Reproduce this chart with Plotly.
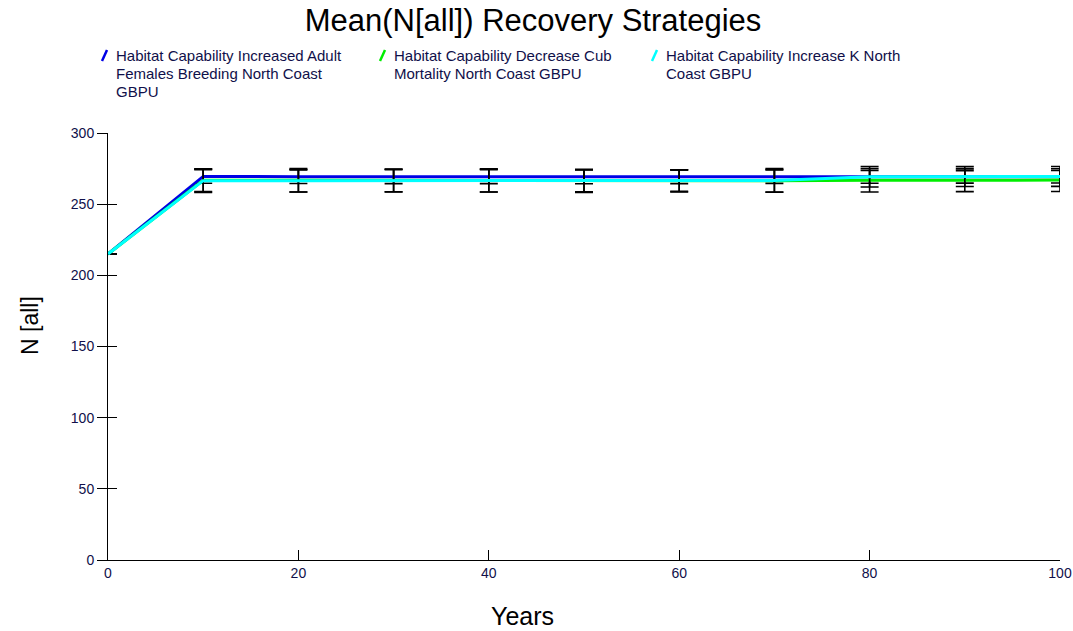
import plotly.graph_objects as go

# Simulated mean population size N[all] by year, with standard deviations
years = [0, 10, 20, 30, 40, 50, 60, 70, 80, 90, 100]

adult_females_mean = [215, 269.5, 269.3, 269.3, 269.3, 269.2, 269.2, 269.3, 269.2, 269.2, 269.3]
adult_females_sd = [0, 4.8, 4.8, 4.9, 4.9, 4.9, 4.8, 4.7, 4.5, 4.4, 4.4]

cub_mortality_mean = [215, 266.8, 266.8, 266.7, 266.7, 266.2, 266.3, 266.5, 266.8, 266.8, 266.9]
cub_mortality_sd = [0, 8.0, 8.2, 8.0, 8.1, 8.0, 7.8, 7.9, 8.2, 8.0, 8.0]

increase_k_mean = [215, 266.5, 266.5, 266.5, 266.6, 266.6, 266.6, 266.7, 269.3, 269.4, 269.5]
increase_k_sd = [0, 8.2, 7.9, 8.0, 8.0, 7.9, 7.6, 8.3, 7.2, 7.0, 7.0]

# Series names, one entry per wrapped legend line
series_name_lines = [
    ["Habitat Capability Increased Adult", "Females Breeding North Coast", "GBPU"],
    ["Habitat Capability Decrease Cub", "Mortality North Coast GBPU"],
    ["Habitat Capability Increase K North", "Coast GBPU"],
]
series_colors = ["#0000e6", "#00ee00", "#00ffff"]

y_ticks = [0, 50, 100, 150, 200, 250, 300]
x_ticks = [0, 20, 40, 60, 80, 100]

FONT = "Arial, Liberation Sans, sans-serif"
LABEL_COLOR = "#10104a"

W, H = 1073, 631
L, R, T, B = 108, 13, 133, 71
plot_w = W - L - R
plot_h = H - T - B


def px_x(x):
    return (x - L) / plot_w


def px_y(y):
    return (H - B - y) / plot_h


fig = go.Figure()

all_means = [adult_females_mean, cub_mortality_mean, increase_k_mean]
all_sds = [adult_females_sd, cub_mortality_sd, increase_k_sd]

for lines, color, mean, sd in zip(series_name_lines, series_colors, all_means, all_sds):
    fig.add_trace(go.Scatter(
        x=years, y=mean, mode="lines", name=" ".join(lines),
        line=dict(color=color, width=3),
        error_y=dict(type="data", array=sd, visible=True,
                     color="#000000", thickness=1.6, width=9),
        showlegend=False,
    ))

# Secondary y axis carries the inward half of the crossing ticks
fig.add_trace(go.Scatter(x=[None], y=[None], yaxis="y2", showlegend=False))

fig.update_layout(
    width=W, height=H,
    margin=dict(l=L, r=R, t=T, b=B, autoexpand=False),
    paper_bgcolor="white", plot_bgcolor="white",
    title=dict(text="Mean(N[all]) Recovery Strategies",
               font=dict(family=FONT, size=31, color="#000000"),
               x=px_x(533), xref="paper", xanchor="center",
               y=0.968, yanchor="middle"),
    xaxis=dict(range=[0, 100], tickvals=x_ticks, ticks="inside", ticklen=10,
               tickcolor="#000000", tickwidth=1, automargin=False,
               showline=True, linecolor="#000000", linewidth=1,
               showgrid=False, zeroline=False,
               tickfont=dict(family=FONT, size=14, color=LABEL_COLOR)),
    yaxis=dict(range=[0, 300], tickvals=y_ticks, ticks="outside", ticklen=10,
               tickcolor="#000000", tickwidth=1, automargin=False,
               showline=True, linecolor="#000000", linewidth=1,
               showgrid=False, zeroline=False,
               tickfont=dict(family=FONT, size=14, color=LABEL_COLOR)),
    yaxis2=dict(overlaying="y", range=[0, 300], tickvals=y_ticks, ticks="inside",
                ticklen=9, tickcolor="#000000", showticklabels=False,
                automargin=False,
                showline=False, showgrid=False, zeroline=False, side="left"),
)

# Axis titles
fig.add_annotation(text="Years", xref="paper", yref="paper",
                   x=px_x(522), y=px_y(616), xanchor="center", yanchor="middle",
                   showarrow=False,
                   font=dict(family=FONT, size=25, color="#000000"))
fig.add_annotation(text="N [all]", xref="paper", yref="paper", textangle=-90,
                   x=px_x(30), y=px_y(326), xanchor="center", yanchor="middle",
                   showarrow=False,
                   font=dict(family=FONT, size=23, color="#000000"))

# Legend: slanted colour marks with wrapped series names
legend_x = [117, 395, 667]
line_step = 18.5
for lines, color, lx in zip(series_name_lines, series_colors, legend_x):
    fig.add_shape(type="line", xref="paper", yref="paper",
                  x0=px_x(lx - 15), y0=px_y(61), x1=px_x(lx - 10), y1=px_y(50),
                  line=dict(color=color, width=2.5))
    for i, text in enumerate(lines):
        fig.add_annotation(text=text, xref="paper", yref="paper",
                           x=px_x(lx - 3), y=px_y(55 + i * line_step),
                           xanchor="left", yanchor="middle",
                           align="left", showarrow=False,
                           font=dict(family=FONT, size=15, color=LABEL_COLOR))

fig.write_html("out.html")
